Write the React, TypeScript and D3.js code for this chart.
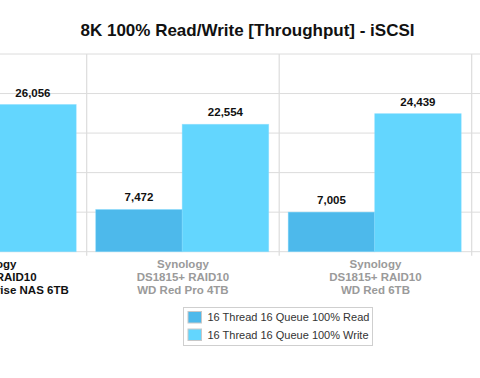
import React from "react";
import * as d3 from "d3";

const categories = [
  ["Synology", "DS1815+ RAID10", "Seagate Enterprise NAS 6TB"],
  ["Synology", "DS1815+ RAID10", "WD Red Pro 4TB"],
  ["Synology", "DS1815+ RAID10", "WD Red 6TB"],
];
const seriesNames = ["16 Thread 16 Queue 100% Read", "16 Thread 16 Queue 100% Write"];
const readValues = [7200, 7472, 7005];
const writeValues = [26056, 22554, 24439];
const yTicks = [0, 7000, 14000, 21000, 28000, 35000];
const colors = ["#4db9eb", "#63d6fe"];

export default function App() {
  const W = 480, H = 378;
  const x = d3.scaleBand<number>().domain([0, 1, 2]).range([-105.8, 471.7]);
  const inner = d3.scaleBand<number>().domain([0, 1]).range([9, x.bandwidth() - 10.5]);
  const y = d3.scaleLinear().domain([0, 35000]).range([251.7, 54]);
  const fmt = d3.format(",");
  const font = "'Liberation Sans', Arial, Helvetica, sans-serif";
  const series = [readValues, writeValues];
  return (
    <svg width={W} height={H} style={{ position: "absolute", left: 0, top: 0 }} fontFamily={font}>
      <rect width={W} height={H} fill="#fff" />
      <text x={247.5} y={35.5} textAnchor="middle" fontSize={17} fontWeight="bold" fill="#111">
        8K 100% Read/Write [Throughput] - iSCSI
      </text>
      {yTicks.map((t) => (
        <line key={t} x1={0} x2={W} y1={y(t)} y2={y(t)} stroke="#dcdcdc" strokeWidth={1} />
      ))}
      {[0, 1, 2].map((i) => (
        <line key={"v" + i} x1={(x(i) as number) + x.bandwidth()} x2={(x(i) as number) + x.bandwidth()} y1={y(35000)} y2={y(0) + 4} stroke="#dcdcdc" strokeWidth={1.2} />
      ))}
      {categories.map((c, i) =>
        series.map((vals, s) => {
          const bx = (x(i) as number) + (inner(s) as number);
          const bw = inner.bandwidth();
          const v = vals[i];
          return (
            <g key={i + "-" + s}>
              <rect x={bx} y={y(v)} width={bw} height={y(0) - y(v)} fill={colors[s]} stroke="#7fdcff" strokeOpacity={0.5} strokeWidth={0.8} />
              <text x={bx + bw / 2} y={y(v) - 8} textAnchor="middle" fontSize={11.5} fontWeight="bold" fill="#111">
                {fmt(v)}
              </text>
            </g>
          );
        })
      )}
      {categories.map((c, i) => (
        <text key={"c" + i} textAnchor="middle" fontSize={11.5} fontWeight="bold" fill={i === 0 ? "#111" : "#9a9a9a"}>
          {c.map((line, k) => (
            <tspan key={k} x={(x(i) as number) + x.bandwidth() / 2} y={267.5 + k * 13}>{line}</tspan>
          ))}
        </text>
      ))}
      <rect x={183.5} y={307.5} width={189} height={38} fill="#fff" stroke="#cfcfcf" strokeWidth={1} />
      {seriesNames.map((n, s) => (
        <g key={n}>
          <rect x={188} y={311.5 + s * 17.5} width={13.5} height={11.5} fill={colors[s]} stroke="#c8c8c8" strokeWidth={1} />
          <text x={207.5} y={321 + s * 18} fontSize={11} fill="#333">{n}</text>
        </g>
      ))}
    </svg>
  );
}
